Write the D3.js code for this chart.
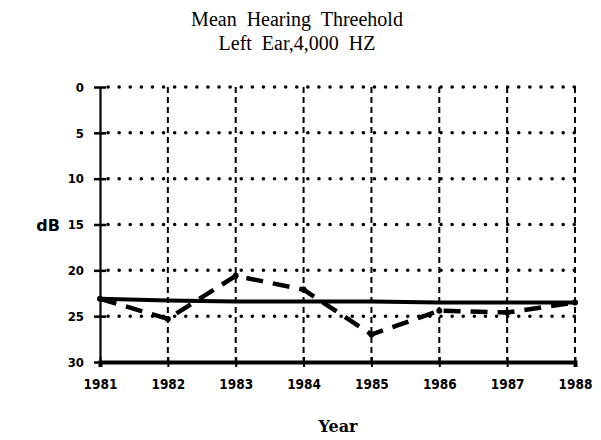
<!DOCTYPE html>
<html>
<head>
<meta charset="utf-8">
<script src="https://cdn.jsdelivr.net/npm/d3@7"></script>
<style>
  body { margin: 0; background: #fff; }
  text { fill: #000; }
</style>
</head>
<body>
<script>
// values
var years = [1981, 1982, 1983, 1984, 1985, 1986, 1987, 1988];
var yearly = [23.1, 25.3, 20.6, 22.1, 27.0, 24.4, 24.6, 23.5];   // dashed series
var trend = [23.1, 23.3, 23.4, 23.4, 23.4, 23.5, 23.5, 23.5];    // solid series
var dbTicks = [0, 5, 10, 15, 20, 25, 30];
var titleLines = ["Mean  Hearing  Threehold", "Left  Ear,4,000  HZ"];

var width = 601, height = 440;

var svg = d3.select("body")
    .append("svg")
        .attr("width", width)
        .attr("height", height);

var xscale = d3.scaleLinear()
    .domain([1981, 1988])
    .range([100, 575]);

var yscale = d3.scaleLinear()
    .domain([0, 30])
    .range([87, 362]);

// title
svg.selectAll(".title")
    .data(titleLines)
    .enter()
    .append("text")
        .attr("class", "title")
        .attr("x", 297)
        .attr("y", function(d, i) { return 26 + i * 24; })
        .attr("text-anchor", "middle")
        .style("white-space", "pre")
        .style("font-family", "'Liberation Serif', serif")
        .style("font-size", "20px")
        .text(function(d) { return d; });

// horizontal dotted grid
svg.selectAll(".hgrid")
    .data(dbTicks.slice(0, -1))
    .enter()
    .append("line")
        .attr("class", "hgrid")
        .attr("x1", xscale(1981) + 8)
        .attr("x2", xscale(1988))
        .attr("y1", function(d) { return yscale(d); })
        .attr("y2", function(d) { return yscale(d); })
        .attr("stroke", "#000")
        .attr("stroke-width", 3.5)
        .attr("stroke-linecap", "round")
        .attr("stroke-dasharray", "0.1,11");

// vertical dashed grid
svg.selectAll(".vgrid")
    .data(years.slice(1))
    .enter()
    .append("line")
        .attr("class", "vgrid")
        .attr("x1", function(d) { return xscale(d); })
        .attr("x2", function(d) { return xscale(d); })
        .attr("y1", yscale(0))
        .attr("y2", yscale(30))
        .attr("stroke", "#000")
        .attr("stroke-width", 2)
        .attr("stroke-dasharray", "6,4");

// y axis
var yAxis = svg.append("g")
    .attr("transform", "translate(" + xscale(1981) + ",0)")
    .call(d3.axisLeft(yscale).tickValues(dbTicks).tickSize(0).tickPadding(16));
yAxis.select(".domain").attr("stroke-width", 2.2);
yAxis.selectAll("text")
    .style("font-family", "'DejaVu Sans Condensed', 'DejaVu Sans', sans-serif")
    .style("font-weight", "bold")
    .style("font-size", "13px");
yAxis.selectAll(".tick")
    .append("line")
        .attr("x1", -6)
        .attr("x2", 6)
        .attr("stroke", "#000")
        .attr("stroke-width", 2.5);

// x axis
var xAxis = svg.append("g")
    .attr("transform", "translate(0," + yscale(30) + ")")
    .call(d3.axisBottom(xscale).tickValues(years).tickFormat(d3.format("d")).tickSize(5).tickPadding(12));
xAxis.select(".domain").attr("stroke-width", 4);
xAxis.selectAll(".tick line").attr("stroke-width", 2).attr("y1", -5);
xAxis.selectAll("text")
    .style("font-family", "'DejaVu Sans Condensed', 'DejaVu Sans', sans-serif")
    .style("font-weight", "bold")
    .style("font-size", "13.5px");

// solid series
var line = d3.line()
    .x(function(d, i) { return xscale(years[i]); })
    .y(function(d) { return yscale(d); });

svg.append("path")
    .datum(trend)
    .attr("d", line)
    .attr("fill", "none")
    .attr("stroke", "#000")
    .attr("stroke-width", 4);

// dashed series
svg.append("path")
    .datum(yearly)
    .attr("d", line)
    .attr("fill", "none")
    .attr("stroke", "#000")
    .attr("stroke-width", 4.5)
    .attr("stroke-dasharray", "17,10");

svg.selectAll(".dot")
    .data(yearly)
    .enter()
    .append("circle")
        .attr("class", "dot")
        .attr("cx", function(d, i) { return xscale(years[i]); })
        .attr("cy", function(d) { return yscale(d); })
        .attr("r", 3)
        .attr("fill", "#000");

// axis labels
svg.append("text")
    .attr("x", 48)
    .attr("y", 231)
    .attr("text-anchor", "middle")
    .style("font-family", "'DejaVu Sans', sans-serif")
    .style("font-weight", "bold")
    .style("font-size", "16px")
    .text("dB");

svg.append("text")
    .attr("x", 338)
    .attr("y", 432)
    .attr("text-anchor", "middle")
    .style("font-family", "'DejaVu Serif', serif")
    .style("font-weight", "bold")
    .style("font-size", "16px")
    .text("Year");
</script>
</body>
</html>
